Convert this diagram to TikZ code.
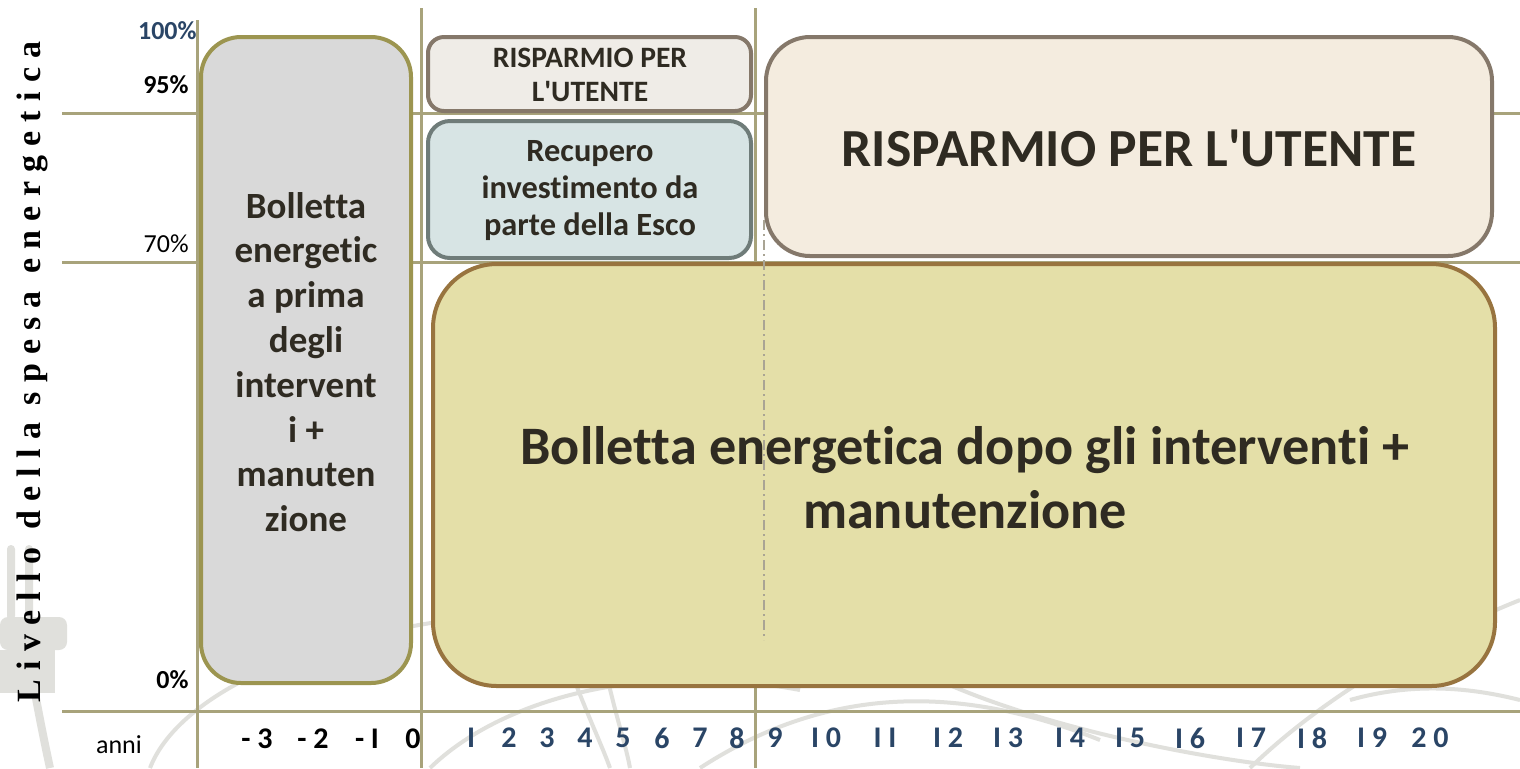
\documentclass[tikz,border=0pt]{standalone}
\usepackage{fontspec}
\setmainfont{Carlito}[Ligatures=NoCommon]
\newfontfamily\axisfont{Liberation Serif}[LetterSpace=27]
\definecolor{gridc}{HTML}{A8A37B}
\definecolor{inkc}{HTML}{2F2B22}
\definecolor{bluec}{HTML}{2A4566}
\definecolor{wmark}{HTML}{E0E0DC}
\definecolor{primaf}{HTML}{D9D9D9}
\definecolor{primab}{HTML}{9C9550}
\definecolor{utenf}{HTML}{EFECE7}
\definecolor{utenb}{HTML}{85786A}
\definecolor{recf}{HTML}{D7E4E4}
\definecolor{recb}{HTML}{6F7C79}
\definecolor{risf}{HTML}{F4ECDF}
\definecolor{dopof}{HTML}{E4DFA8}
\definecolor{dopob}{HTML}{98743F}
\definecolor{dashc}{HTML}{A9A494}

\begin{document}
\begin{tikzpicture}[x=0.5pt,y=-0.5pt,
    grid/.style={draw=gridc,line width=1.5pt},
    wm/.style={draw=wmark,line width=2pt},
    panel/.style={line width=2pt,rounded corners=#1},
    label/.style={text=inkc,align=center},
    yearlab/.style={font=\bfseries\fontsize{15}{15}\selectfont}]
    \useasboundingbox (0,0) rectangle (1520,768);
    \fill[white] (0,0) rectangle (1520,768);
    % watermark
    \fill[wmark,rounded corners=2pt] (7,545) rectangle (15,620);
    \fill[wmark,rounded corners=2pt] (25,545) rectangle (33,620);
    \fill[wmark,rounded corners=4pt] (0,617) rectangle (67,650);
    \fill[wmark] (0,650) rectangle (55,693);
    \draw[wm,line width=4pt] (35,693) .. controls (40,720) and (45,745) .. (50,768);
    \draw[wm] (150,768) .. controls (180,690) and (330,620) .. (560,610);
    \draw[wm] (430,768) .. controls (500,700) and (640,660) .. (800,690);
    \draw[wm] (560,640) .. controls (580,700) and (600,740) .. (610,768);
    \draw[wm] (600,640) .. controls (610,700) and (625,740) .. (630,768);
    \draw[wm] (700,768) .. controls (820,690) and (950,680) .. (1100,740);
    \draw[wm] (900,660) .. controls (1000,720) and (1200,760) .. (1300,768);
    \draw[wm] (1250,768) .. controls (1320,700) and (1420,640) .. (1520,600);
    \draw[wm] (1350,700) .. controls (1420,680) and (1480,690) .. (1520,700);
    % grid
    \draw[grid] (62,113) -- (1520,113);
    \draw[grid] (62,262) -- (1520,262);
    \draw[grid] (62,711) -- (1520,711);
    \foreach \x/\t in {197/20,421/8,755/8} \draw[grid] (\x,\t) -- (\x,768);
    % boxes
    \draw[panel=20pt,draw=primab,fill=primaf] (201,37) rectangle (411,683);
    \draw[panel=8pt,draw=utenb,fill=utenf] (428,37) rectangle (751,111);
    \draw[panel=11pt,draw=recb,fill=recf] (428,121) rectangle (751,258);
    \draw[panel=22pt,draw=utenb,fill=risf] (766,37) rectangle (1492,256);
    \draw[panel=32pt,draw=dopob,fill=dopof] (433,264) rectangle (1495,686);
    \draw[dashc,line width=0.8pt,dash pattern=on 5pt off 2pt on 1pt off 2pt] (764,220) -- (764,640);
    % texts
    \node[label,font=\bfseries\fontsize{18.5}{22.4}\selectfont] (prima) at (306,362)
      {Bolletta\\energetic\\a prima\\degli\\intervent\\i +\\manuten\\zione};
    \node[label,font=\bfseries\fontsize{14.8}{17}\selectfont] (utente) at (590,75)
      {RISPARMIO PER\\L\textquotesingle UTENTE};
    \node[label,font=\bfseries\fontsize{16.2}{18.5}\selectfont] (esco) at (590,191)
      {Recupero\\investimento da\\parte della Esco};
    \node[label,font=\bfseries\fontsize{26.8}{30}\selectfont] (risparmio) at (1129,148)
      {RISPARMIO PER L\textquotesingle UTENTE};
    \node[label,font=\bfseries\fontsize{27.1}{32}\selectfont] (dopo) at (965,478)
      {Bolletta energetica dopo gli interventi +\\manutenzione};
    % y axis
    \node[text=bluec,font=\bfseries\fontsize{13}{13}\selectfont,anchor=east,inner sep=0pt] (p100) at (197,31) {100\%};
    \node[font=\bfseries\fontsize{13}{13}\selectfont,anchor=east,inner sep=0pt] (p95) at (189,85) {95\%};
    \node[font=\fontsize{13}{13}\selectfont,anchor=east,inner sep=0pt] (p70) at (189,244) {70\%};
    \node[font=\bfseries\fontsize{13}{13}\selectfont,anchor=east,inner sep=0pt] (p0) at (189,680) {0\%};
    \node[rotate=90,font=\axisfont\bfseries\fontsize{17}{17}\selectfont] (livello) at (32,372)
      {Livello della spesa energetica};
    % x axis
    \node[font=\fontsize{13}{13}\selectfont] (anni) at (119,745) {anni};
    \foreach \x/\n in {257/- 3,313/- 2,367/- I,413/0}
      \node[yearlab] (prev\x) at (\x,739) {\n};
    \foreach \x/\n in {471/I,509/2,547/3,585/4,623/5,662/6,700/7,737/8,775/9,826/I 0,885/I I,
      948/I 2,1008/I 3,1070/I 4,1130/I 5,1190/I 6,1251/I 7,1312/I 8,1372/I 9,1430/2 0}
      \node[yearlab,text=bluec] (year\x) at (\x,738) {\n};
\end{tikzpicture}
\end{document}
